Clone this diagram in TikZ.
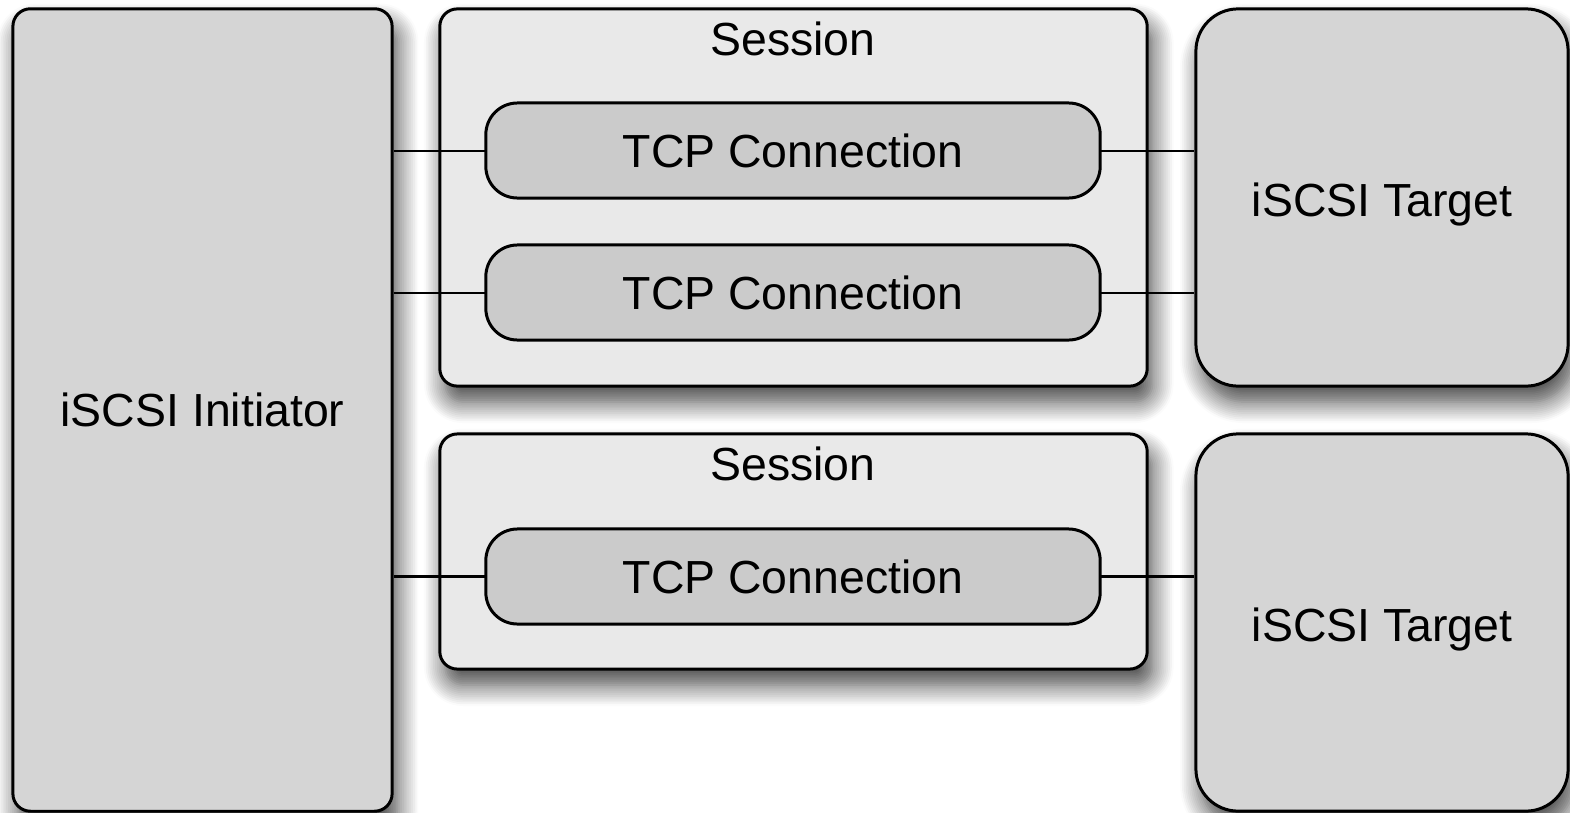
\documentclass[tikz,border=0pt]{standalone}
\usepackage{fontspec}
\setmainfont{Liberation Sans}
\usetikzlibrary{shadows.blur}

\definecolor{hostgray}{HTML}{D5D5D5}
\definecolor{sessgray}{HTML}{E9E9E9}
\definecolor{conngray}{HTML}{CBCBCB}

\begin{document}
\begin{tikzpicture}[x=0.01cm,y=-0.01cm,
    font=\fontsize{13.2}{16}\selectfont,
    box/.style={draw=black,line width=0.85pt,rectangle,inner sep=0pt,
      blur shadow={shadow xshift=1.5pt,shadow yshift=-4.5pt,
        shadow blur radius=6pt,shadow blur steps=12,shadow opacity=75}},
    host/.style={box,fill=hostgray,rounded corners=5pt},
    target/.style={box,fill=hostgray,rounded corners=12pt},
    session/.style={box,fill=sessgray,rounded corners=5pt,minimum width=7.07cm},
    conn/.style={draw=black,line width=0.85pt,fill=conngray,rounded corners=9pt,
      minimum width=6.14cm,minimum height=0.95cm,inner sep=0pt},
    link/.style={line width=0.8pt}]

    \useasboundingbox (0,0) rectangle (1570,812);

% Initiator on the left, targets on the right
    \node[host,minimum width=3.79cm,minimum height=8.02cm] (init) at (202.5,410) {};
    \node[target,minimum width=3.72cm,minimum height=3.77cm] (tgtA) at (1382,197.5) {};
    \node[target,minimum width=3.72cm,minimum height=3.77cm] (tgtB) at (1382,622.5) {};

% Sessions
    \node[session,minimum height=3.77cm] (sessA) at (793.5,197.5) {};
    \node[session,minimum height=2.35cm] (sessB) at (793.5,551.5) {};

% Lines first, connections drawn on top of them
    \coordinate (cA1) at (0,151);
    \coordinate (cA2) at (0,293);
    \coordinate (cB1) at (0,576.5);
    \foreach \c/\t in {cA1/tgtA,cA2/tgtA,cB1/tgtB}
        \draw[link] (init.east |- \c) -- (\t.west |- \c);

    \node[conn] (tcpA1) at (793,150.5) {TCP Connection};
    \node[conn] (tcpA2) at (793,292.5) {TCP Connection};
    \node[conn] (tcpB1) at (793,576.5) {TCP Connection};

% Labels
    \node (initlbl) at (init.center) {iSCSI Initiator};
    \node (tgtAlbl) at ([yshift=-2pt]tgtA.center) {iSCSI Target};
    \node (tgtBlbl) at ([yshift=-2pt]tgtB.center) {iSCSI Target};
    \node (sessAlbl) at (793,39) {Session};
    \node (sessBlbl) at (793,464) {Session};

\end{tikzpicture}
\end{document}
